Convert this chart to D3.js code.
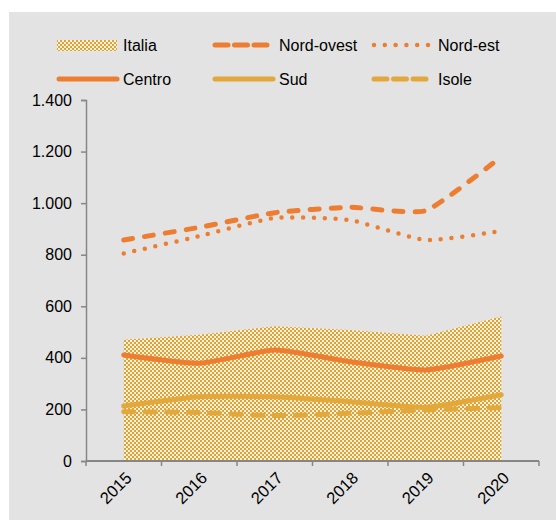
<!DOCTYPE html>
<html>
<head>
<meta charset="utf-8">
<script src="https://cdn.jsdelivr.net/npm/d3@7"></script>
<style>
  html, body { margin: 0; padding: 0; background: #ffffff; }
  svg { display: block; font-family: "Liberation Sans", Arial, sans-serif; }
</style>
</head>
<body>
<svg id="chart" width="556" height="520"></svg>
<script>
const years = ["2015", "2016", "2017", "2018", "2019", "2020"];
const italia = [470, 490, 523, 508, 486, 560];
const nordOvest = [857, 906, 963, 984, 971, 1180];
const nordEst = [805, 872, 943, 934, 857, 892];
const centro = [411, 379, 430, 385, 353, 407];
const sud = [213, 249, 249, 230, 208, 257];
const isole = [191, 188, 176, 185, 198, 207];
const yTicks = [0, 200, 400, 600, 800, 1000, 1200, 1400];

const ORANGE = "#ed7d31";
const GOLD = "#e2a83b";

const svg = d3.select("#chart");

// panel background
svg.append("rect").attr("x", 9).attr("y", 12).attr("width", 547).attr("height", 508).attr("fill", "#e3e3e3");

// pattern for Italia
const defs = svg.append("defs");
const pat = defs.append("pattern").attr("id", "checker").attr("patternUnits", "userSpaceOnUse")
  .attr("width", 4).attr("height", 4);
pat.append("rect").attr("width", 4).attr("height", 4).attr("fill", "#fbf3e2");
pat.append("rect").attr("x", 0).attr("y", 0).attr("width", 2).attr("height", 2).attr("fill", "#e2a230");
pat.append("rect").attr("x", 2).attr("y", 2).attr("width", 2).attr("height", 2).attr("fill", "#e2a230");

const x = d3.scaleBand().domain(years).range([86, 539]);
const y = d3.scaleLinear().domain([0, 1400]).range([461, 100]);
const cx = d => x(d) + x.bandwidth() / 2;

// Italia area
const area = d3.area().x((d, i) => cx(years[i])).y0(y(0)).y1(d => y(d));
svg.append("path").datum(italia).attr("d", area).attr("fill", "url(#checker)");

// Y axis
const yAxis = d3.axisLeft(y).tickValues(yTicks).tickSize(5).tickPadding(9)
  .tickFormat(d => d3.format(",")(d).replace(/,/g, "."));
const gy = svg.append("g").attr("transform", "translate(86,0)").call(yAxis);
gy.select(".domain").attr("stroke", "#868686").attr("stroke-width", 1.5);
gy.selectAll(".tick line").attr("stroke", "#868686").attr("stroke-width", 1.5);
gy.selectAll(".tick text").attr("font-size", 16).attr("fill", "#000").attr("font-family", "Liberation Sans, Arial, sans-serif");

// X axis
const gx = svg.append("g").attr("transform", "translate(0,461)");
gx.append("line").attr("x1", 86).attr("x2", 539).attr("stroke", "#868686").attr("stroke-width", 2);
const bounds = years.map(d => x(d)).concat([x(years[years.length - 1]) + x.bandwidth()]);
gx.selectAll("line.tk").data(bounds).join("line").attr("class", "tk")
  .attr("x1", d => d).attr("x2", d => d).attr("y1", 0).attr("y2", 5)
  .attr("stroke", "#868686").attr("stroke-width", 1.5);
gx.selectAll("text").data(years).join("text")
  .attr("transform", d => `translate(${cx(d) + 5},${14}) rotate(-45)`)
  .attr("text-anchor", "end").attr("dy", "0.35em")
  .attr("font-size", 16.5).attr("fill", "#000").text(d => d);

// Lines
const line = d3.line().x((d, i) => cx(years[i])).y(d => y(d)).curve(d3.curveCardinal.tension(0.5));
const series = [
  { name: "Isole", values: isole, color: GOLD, width: 5, dash: "10 11.5" },
  { name: "Sud", values: sud, color: GOLD, width: 5, dash: null },
  { name: "Centro", values: centro, color: ORANGE, width: 5, dash: null },
  { name: "Nord-est", values: nordEst, color: ORANGE, width: 4.5, dash: "0 10.8" },
  { name: "Nord-ovest", values: nordOvest, color: ORANGE, width: 5, dash: "9 12" }
];
series.forEach(s => {
  svg.append("path").datum(s.values).attr("d", line)
    .attr("fill", "none").attr("stroke", s.color).attr("stroke-width", s.width)
    .attr("stroke-linecap", "round").attr("stroke-linejoin", "round")
    .attr("stroke-dasharray", s.dash);
});

// Legend
const legend = [
  { name: "Italia", type: "area", x: 57, y: 45 },
  { name: "Nord-ovest", type: "line", color: ORANGE, dash: "13 6.5", x: 213, y: 45, w: 5 },
  { name: "Nord-est", type: "line", color: ORANGE, dash: "0 10.8", x: 372, y: 45, w: 4.5 },
  { name: "Centro", type: "line", color: ORANGE, dash: null, x: 57, y: 79, w: 5 },
  { name: "Sud", type: "line", color: GOLD, dash: null, x: 213, y: 79, w: 5 },
  { name: "Isole", type: "line", color: GOLD, dash: "13 6.5", x: 372, y: 79, w: 5 }
];
legend.forEach(l => {
  if (l.type === "area") {
    svg.append("rect").attr("x", l.x).attr("y", l.y - 5).attr("width", 60).attr("height", 11).attr("fill", "url(#checker)");
  } else {
    svg.append("line").attr("x1", l.x + 2).attr("x2", l.x + 60).attr("y1", l.y).attr("y2", l.y)
      .attr("stroke", l.color).attr("stroke-width", l.w).attr("stroke-linecap", "round")
      .attr("stroke-dasharray", l.dash);
  }
  svg.append("text").attr("x", l.x + 66).attr("y", l.y).attr("dy", "0.35em")
    .attr("font-size", 16).attr("fill", "#000").text(l.name);
});
</script>
</body>
</html>
